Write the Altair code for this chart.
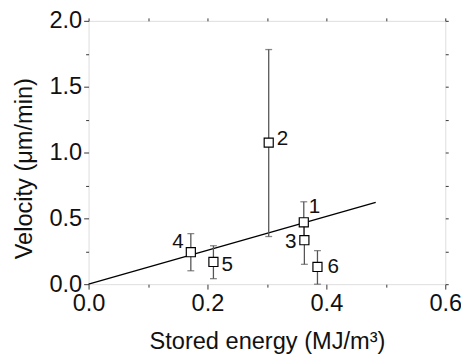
import altair as alt
import pandas as pd

# Data
labels = ["1", "2", "3", "4", "5", "6"]
energy = [0.362, 0.303, 0.363, 0.172, 0.210, 0.385]
velocity = [0.470, 1.075, 0.334, 0.243, 0.169, 0.131]
err_low = [0.340, 0.362, 0.151, 0.102, 0.042, 0.000]
err_high = [0.626, 1.782, 0.450, 0.384, 0.292, 0.255]

fit_x = [0.0, 0.483]
fit_y = [0.0, 0.621]

x_ticks = [0.0, 0.1, 0.2, 0.3, 0.4, 0.5, 0.6]
y_ticks = [0.0, 0.25, 0.5, 0.75, 1.0, 1.25, 1.5, 1.75, 2.0]

# label offsets (pixels)
label_dx = [11, 14, -14, -13, 14, 16]
label_dy = [-15, -4, 2, -10, 3, 0]

df = pd.DataFrame({"label": labels, "x": energy, "y": velocity,
                   "lo": err_low, "hi": err_high})
fit = pd.DataFrame({"x": fit_x, "y": fit_y})

FONT = "Liberation Sans"
xs = alt.Scale(domain=[0, 0.6], nice=False, zero=False)
ys = alt.Scale(domain=[0, 2.0], nice=False, zero=False)

major_x = "abs(datum.value*5 - round(datum.value*5)) < 0.001"
major_y = "abs(datum.value*2 - round(datum.value*2)) < 0.001"

x_axis = alt.Axis(values=x_ticks, labelExpr=f"({major_x}) ? format(datum.value, '.1f') : ''",
                  tickSize={"condition": {"test": major_x, "value": 5}, "value": 3},
                  grid=False, domain=False, tickColor="#333", labelFont=FONT, labelFontSize=24,
                  labelColor="#111", labelPadding=3, labelFlush=False,
                  title="Stored energy (MJ/m³)", titleFont=FONT,
                  titleFontSize=24, titleFontWeight="normal", titleColor="#111", titlePadding=14)
y_axis = alt.Axis(values=y_ticks, labelExpr=f"({major_y}) ? format(datum.value, '.1f') : ''",
                  tickSize={"condition": {"test": major_y, "value": 5}, "value": 3},
                  grid=False, domain=False, tickColor="#333", labelFont=FONT, labelFontSize=24,
                  labelColor="#111", labelPadding=2, labelFlush=False,
                  title="Velocity (μm/min)", titleFont=FONT,
                  titleFontSize=24, titleFontWeight="normal", titleColor="#111", titlePadding=13,
                  titleY=150)

line = alt.Chart(fit).mark_line(color="black", strokeWidth=1.4).encode(
    x=alt.X("x:Q", scale=xs, axis=x_axis),
    y=alt.Y("y:Q", scale=ys, axis=y_axis),
)

rules = alt.Chart(df).mark_rule(color="#555", strokeWidth=1.3).encode(
    x=alt.X("x:Q", scale=xs, axis=None),
    y=alt.Y("lo:Q", scale=ys, axis=None),
    y2="hi:Q",
)
cap_lo = alt.Chart(df).mark_tick(color="#555", orient="horizontal", size=7, thickness=1.3).encode(
    x=alt.X("x:Q", scale=xs, axis=None),
    y=alt.Y("lo:Q", scale=ys, axis=None),
)
cap_hi = alt.Chart(df).mark_tick(color="#555", orient="horizontal", size=7, thickness=1.3).encode(
    x=alt.X("x:Q", scale=xs, axis=None),
    y=alt.Y("hi:Q", scale=ys, axis=None),
)
points = alt.Chart(df).mark_point(shape="square", filled=True, fill="white", stroke="black",
                                  strokeWidth=1.2, size=85, opacity=1).encode(
    x=alt.X("x:Q", scale=xs, axis=None),
    y=alt.Y("y:Q", scale=ys, axis=None),
)

texts = []
for i, lab in enumerate(labels):
    texts.append(
        alt.Chart(df[df["label"] == lab]).mark_text(font=FONT, fontSize=21, color="#111",
                                                    dx=label_dx[i], dy=label_dy[i]).encode(
            x=alt.X("x:Q", scale=xs, axis=None),
            y=alt.Y("y:Q", scale=ys, axis=None),
            text="label:N",
        )
    )

# top / right mirrored ticks
frame = alt.Chart(fit).mark_point(opacity=0).encode(
    x=alt.X("x:Q", scale=xs, axis=alt.Axis(orient="top", values=x_ticks, labels=False, title=None,
                                           tickSize=3, grid=False, domain=False, tickColor="#333")),
    y=alt.Y("y:Q", scale=ys, axis=alt.Axis(orient="right", values=y_ticks, labels=False, title=None,
                                           tickSize=3, grid=False, domain=False, tickColor="#333")),
)

chart = alt.layer(line, rules, cap_lo, cap_hi, points, *texts, frame).resolve_axis(
    x="independent", y="independent"
).properties(
    width=363, height=268,
    autosize=alt.AutoSizeParams(type="none"),
    padding={"left": 82, "top": 10, "right": 16, "bottom": 70},
).configure_view(stroke="#333", strokeWidth=1.2).configure(background="white")

chart.save("out.html", embed_options={"renderer": "svg", "actions": False})
